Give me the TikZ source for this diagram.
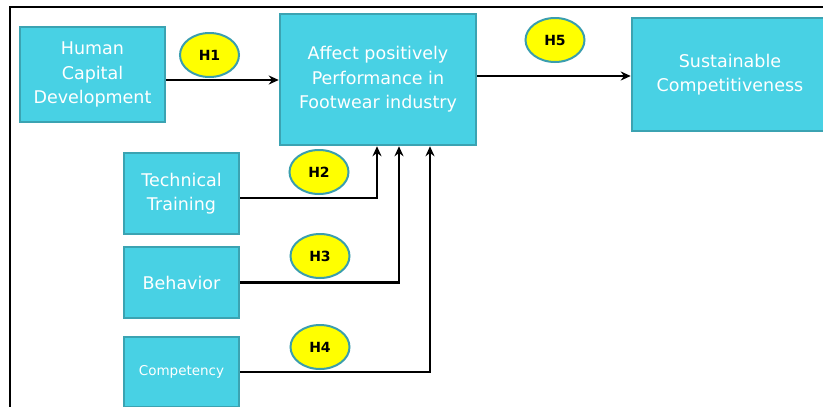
\documentclass[tikz,border=0pt]{standalone}
\usepackage{fontspec}
\setmainfont{DejaVu Sans}
\usetikzlibrary{shapes.geometric,arrows.meta}
\definecolor{boxfill}{HTML}{48D1E4}
\definecolor{boxline}{HTML}{3BA3B2}
\definecolor{hyp}{HTML}{FFFF00}
\definecolor{hypline}{HTML}{3A9EAE}
\tikzset{
  var/.style={draw=boxline, line width=2.5pt, fill=boxfill, text=white, align=center,
    inner sep=0pt, font=\fontsize{17.5}{24.5}\selectfont},
  hypo/.style={ellipse, draw=hypline, line width=2pt, fill=hyp, inner sep=0pt,
    minimum width=59pt, minimum height=44pt, font=\fontsize{14}{16}\selectfont\bfseries},
  arr/.style={draw=black, line width=2.5pt, -{Stealth[length=10pt,width=9pt]}},
}
\begin{document}
\begin{tikzpicture}[x=1pt,y=-1pt]
\useasboundingbox (0,0) rectangle (823,407);
\clip (0,0) rectangle (823,407);
\fill[white] (0,0) rectangle (823,407);
\draw[line width=2pt] (10,420) -- (10,7) -- (830,7);
% variable boxes
\node[var, minimum width=145pt, minimum height=95pt] (hcd) at (92.5,74.5) {Human\\Capital\\Development};
\node[var, minimum width=196pt, minimum height=131pt] (perf) at (378,79.5) {Affect positively\\Performance in\\Footwear industry};
\node[var, minimum width=196pt, minimum height=113pt] (sc) at (730,74.5) {Sustainable\\Competitiveness};
\node[var, minimum width=115pt, minimum height=81pt] (tt) at (181.5,193.5) {Technical\\Training};
\node[var, minimum width=115pt, minimum height=71pt] (beh) at (181.5,282.5) {Behavior};
\node[var, minimum width=115pt, minimum height=70pt, font=\fontsize{13.5}{16}\selectfont] (comp) at (181.5,372) {Competency};
% connectors
\draw[arr] ([yshift=-5.5pt]hcd.east) -- ([yshift=-0.5pt]perf.west);
\draw[arr] ([yshift=3.5pt]perf.east) -- ([yshift=-1.5pt]sc.west);
\draw[arr] ([yshift=-4.5pt]tt.east) -| ([xshift=-1pt]perf.south);
\draw[arr] (beh.east) -| ([xshift=21pt]perf.south);
\draw[arr] (comp.east) -| ([xshift=52pt]perf.south);
% hypotheses
\node[hypo] (h1) at (209.5,55) {H1};
\node[hypo] (h5) at (555,40) {H5};
\node[hypo] (h2) at (319,172) {H2};
\node[hypo] (h3) at (320,256) {H3};
\node[hypo] (h4) at (320,347) {H4};
\end{tikzpicture}
\end{document}
